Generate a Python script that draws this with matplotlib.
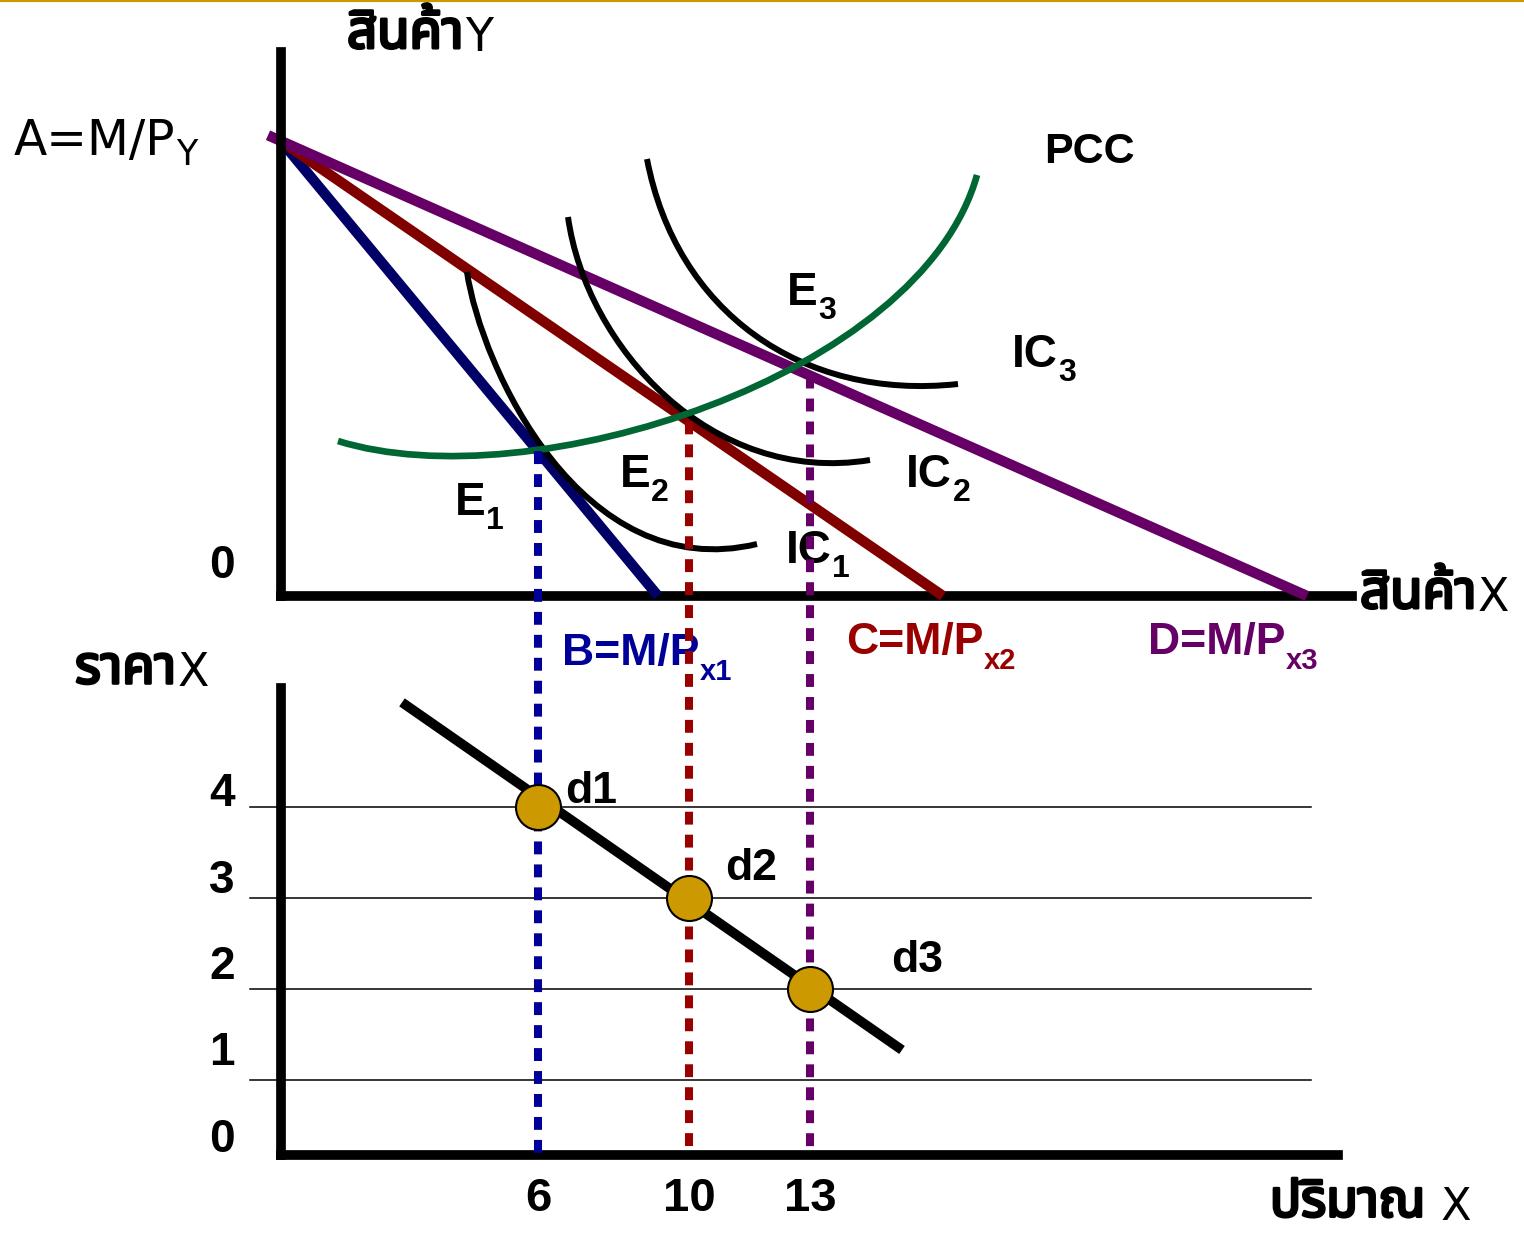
import matplotlib
matplotlib.use("Agg")
import numpy as np
import matplotlib.pyplot as plt
from matplotlib import font_manager, patheffects
from matplotlib.ft2font import FT2Font
from matplotlib.path import Path
from matplotlib.patches import PathPatch, ConnectionPatch
from matplotlib.lines import Line2D

# ---------------------------------------------------------------------------
# Upper panel: budget lines, indifference curves and price-consumption curve
# ---------------------------------------------------------------------------
INCOME_Y = 4.55                      # A = M/P_Y, common vertical intercept
BUDGET_X = [3.77, 6.62, 10.26]       # B, C, D = M/P_x1, M/P_x2, M/P_x3
BUDGET_START = [0.0, 0.0, -0.13]     # where each budget line begins on the left
BUDGET_NAMES = ["B", "C", "D"]
BUDGET_SUBS = ["x1", "x2", "x3"]
BUDGET_COLORS = ["#000066", "#800000", "#660066"]
GUIDE_COLORS = ["#000099", "#990000", "#660066"]
LABEL_COLORS = ["#000099", "#990000", "#660066"]

EQ_X = [2.57, 4.08, 5.29]            # good-X coordinate of E1, E2, E3

# cubic Bezier control points (good X, good Y)
IC1_CTRL = [(1.86, 3.24), (2.00, 2.30), (3.00, 0.10), (4.76, 0.52)]
IC2_CTRL = [(2.87, 3.79), (3.05, 2.50), (4.30, 1.10), (5.89, 1.36)]
IC3_CTRL = [(3.66, 4.37), (3.95, 2.85), (5.20, 1.95), (6.77, 2.12)]
PCC_CTRL = [(0.57, 1.55), (2.50, 0.95), (6.40, 2.20), (6.96, 4.21)]

# ---------------------------------------------------------------------------
# Lower panel: demand curve for X
# ---------------------------------------------------------------------------
PRICES = [4, 3, 2]                   # price of X at d1, d2, d3
QUANTITY_LABELS = ["6", "10", "13"]
PRICE_TICKS = [0, 1, 2, 3, 4]
GRID_PRICES = [1, 2, 3, 4]
DEMAND_Q = [1.21, 6.21]
DEMAND_P = [5.15, 1.33]
POINT_NAMES = ["d1", "d2", "d3"]


def find_thai_family():
    preferred = ["Noto Sans Thai", "Noto Sans Thai UI", "Noto Sans Thai Looped",
                 "Loma", "Garuda", "Norasi", "Sarabun", "Waree", "Kinnari",
                 "Umpush", "Tlwg Typo", "Laksaman", "Tahoma", "Arial Unicode MS"]
    found = []
    for entry in font_manager.fontManager.ttflist:
        try:
            cmap = FT2Font(entry.fname).get_charmap()
        except Exception:
            continue
        if 0x0E2A in cmap and 0x0E49 in cmap and entry.name not in found:
            found.append(entry.name)
    for name in preferred:
        if name in found:
            return name
    return found[0] if found else "DejaVu Sans"


THAI = find_thai_family()
BOLD = ["Liberation Sans", "DejaVu Sans"]
THIN = ["DejaVu Sans"]
THAI_BOLD = [patheffects.withStroke(linewidth=2.2, foreground="black")]

W, H = 1524, 1234
fig = plt.figure(figsize=(W / 100, H / 100), dpi=100, facecolor="white")


def px_rect(left, top, right, bottom):
    return [left / W, 1 - bottom / H, (right - left) / W, (bottom - top) / H]


ax_top = fig.add_axes(px_rect(281, 52, 1352, 596))
ax_top.set_xlim(0, 10.71)
ax_top.set_ylim(0, 5.44)
ax_bot = fig.add_axes(px_rect(281, 688, 1338, 1155))
ax_bot.set_xlim(0, 10.57)
ax_bot.set_ylim(0.176, 5.308)

for ax in (ax_top, ax_bot):
    ax.set_facecolor("none")
    for side in ("top", "right"):
        ax.spines[side].set_visible(False)
    for side in ("left", "bottom"):
        ax.spines[side].set_linewidth(7)
        ax.spines[side].set_color("black")
    ax.spines["left"].set_zorder(5)
    ax.set_yticks([])
    ax.tick_params(length=0)
ax_top.set_xticks([])

# thin rule across the top of the slide
fig.add_artist(Line2D([0, 1], [1 - 1.0 / H] * 2, transform=fig.transFigure,
                      color="#CC9900", lw=1.6))


def sub_label(ax, x, y, main, sub, size=33, subsize=23, color="black",
              dy=-3, family=BOLD, weight="bold", zorder=6):
    t = ax.text(x, y, main, fontsize=size, color=color, family=family,
                fontweight=weight, ha="left", va="baseline", zorder=zorder)
    ax.annotate(sub, xy=(1, 0), xycoords=t, xytext=(0.5, dy),
                textcoords="offset points", fontsize=subsize, color=color,
                family=family, fontweight=weight, ha="left", va="baseline",
                zorder=zorder)
    return t


def thai_label(ax, x, y, thai, latin, size=38, latin_size=33):
    t = ax.text(x, y, thai, family=[THAI, "DejaVu Sans"], fontweight="bold",
                fontsize=size, ha="left", va="baseline",
                path_effects=THAI_BOLD)
    ax.annotate(latin, xy=(1, 0), xycoords=t, xytext=(1, 0),
                textcoords="offset points", family=THIN, fontsize=latin_size,
                ha="left", va="bottom")


def bezier(ax, ctrl, color, lw, z):
    path = Path(ctrl, [Path.MOVETO, Path.CURVE4, Path.CURVE4, Path.CURVE4])
    ax.add_patch(PathPatch(path, fill=False, edgecolor=color, lw=lw,
                           capstyle="butt", zorder=z))


# ---- upper panel ----
for intercept, x0, color in zip(BUDGET_X, BUDGET_START, BUDGET_COLORS):
    xs = np.array([x0, intercept])
    ax_top.plot(xs, INCOME_Y * (1 - xs / intercept), color=color, lw=7.5,
                solid_capstyle="butt", zorder=3, clip_on=False)

for ctrl in (IC1_CTRL, IC2_CTRL, IC3_CTRL):
    bezier(ax_top, ctrl, "black", 4.3, 3.5)
bezier(ax_top, PCC_CTRL, "#006633", 4.8, 4)

EQ_Y = [INCOME_Y * (1 - ex / intercept) for ex, intercept in zip(EQ_X, BUDGET_X)]

thai_label(ax_top, 0.66, 5.48, "สินค้า", "Y")
sub_label(ax_top, -2.67, 4.41, "A=M/P", "Y", size=35, subsize=25,
          family=THIN, weight="normal", dy=0)
ax_top.text(-0.59, 0.18, "0", fontsize=33, family=BOLD, fontweight="bold",
            ha="center", va="baseline")
ax_top.text(7.63, 4.33, "PCC", fontsize=31, family=BOLD, fontweight="bold",
            ha="left", va="baseline")
sub_label(ax_top, 5.06, 2.91, "E", "3")
sub_label(ax_top, 3.39, 1.09, "E", "2")
sub_label(ax_top, 1.74, 0.81, "E", "1")
sub_label(ax_top, 7.31, 2.29, "IC", "3")
sub_label(ax_top, 6.25, 1.09, "IC", "2")
sub_label(ax_top, 5.05, 0.33, "IC", "1")
thai_label(ax_top, 10.79, -0.12, "สินค้า", "X")

budget_label_pos = [(2.81, -0.69), (5.65, -0.58), (8.67, -0.58)]
for (lx, ly), name, sub, color in zip(budget_label_pos, BUDGET_NAMES,
                                      BUDGET_SUBS, LABEL_COLORS):
    sub_label(ax_top, lx, ly, f"{name}=M/P", sub, size=32, subsize=21,
              color=color, dy=-4)

# ---- lower panel ----
for p in GRID_PRICES:
    ax_bot.plot([-0.31, 10.3], [p, p], color="black", lw=1.1, zorder=1,
                clip_on=False)
ax_bot.plot(DEMAND_Q, DEMAND_P, color="black", lw=7,
            solid_capstyle="butt", zorder=2)

for ex, ey, color in zip(EQ_X, EQ_Y, GUIDE_COLORS):
    con = ConnectionPatch(xyA=(ex, ey), coordsA=ax_top.transData,
                          xyB=(ex, ax_bot.get_ylim()[0]),
                          coordsB=ax_bot.transData, color=color, lw=5.8,
                          linestyle=(0, (1.6, 1.25)), capstyle="butt",
                          zorder=3, clip_on=False)
    ax_bot.add_artist(con)

ax_bot.scatter(EQ_X, PRICES, s=1050, c="#CC9900", edgecolors="black",
               linewidths=1.5, zorder=6)

point_label_pos = [(2.84, 4.04), (4.44, 3.20), (6.10, 2.19)]
for (lx, ly), name in zip(point_label_pos, POINT_NAMES):
    ax_bot.text(lx, ly, name, fontsize=32, family=BOLD, fontweight="bold",
                ha="left", va="baseline", zorder=4)

# price labels sit a little above their grid lines, drifting up towards 0
for p in PRICE_TICKS:
    ax_bot.text(-0.59, p + 0.01 + 0.05 * (4 - p), str(p), fontsize=33,
                family=BOLD, fontweight="bold", ha="center", va="baseline")

ax_bot.set_xticks(EQ_X, QUANTITY_LABELS)
ax_bot.tick_params(axis="x", length=0, pad=16, labelsize=34)
for lbl in ax_bot.get_xticklabels():
    lbl.set_fontweight("bold")
    lbl.set_family(BOLD)

thai_label(ax_bot, -2.06, 5.36, "ราคา", "X")
thai_label(ax_bot, 9.89, -0.50, "ปริมาณ", " X", size=37, latin_size=32)

fig.savefig("out.png", dpi=100, facecolor="white")
